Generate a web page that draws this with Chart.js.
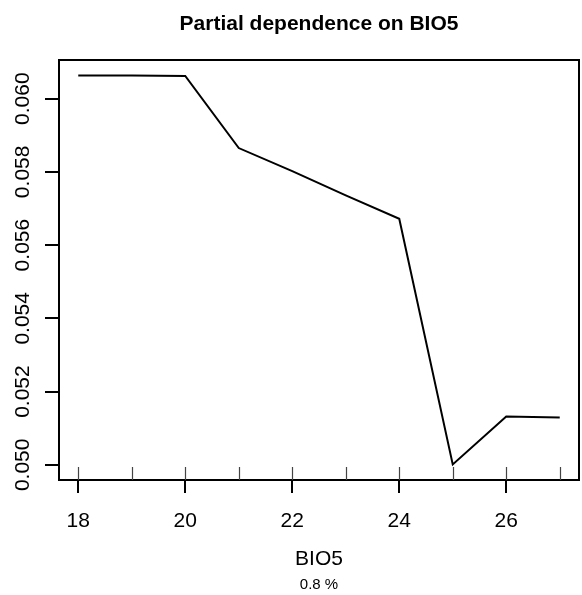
<!DOCTYPE html>
<html>
<head>
<meta charset="utf-8">
<script src="https://cdn.jsdelivr.net/npm/chart.js@4/dist/chart.umd.min.js"></script>
<style>
  html, body { margin: 0; padding: 0; background: #fff; }
  #wrap { width: 582px; height: 595px; }
</style>
</head>
<body>
<div id="wrap"><canvas id="pd"></canvas></div>
<script>
// data
const bio5 = [18, 19, 20, 21, 22, 23, 24, 25, 26, 27];
const response = [0.06063, 0.06063, 0.06062, 0.05865, 0.05802, 0.05736, 0.05672, 0.05001, 0.05132, 0.05129];
const xTicks = [18, 20, 22, 24, 26];
const yTicks = [0.050, 0.052, 0.054, 0.056, 0.058, 0.060];

const title = "Partial dependence on BIO5";
const xLabel = "BIO5";
const subLabel = "0.8 %";

// R style: 4% padding around the data range
const pad = (lo, hi) => [lo - (hi - lo) * 0.04, hi + (hi - lo) * 0.04];
const [xMin, xMax] = pad(Math.min(...bio5), Math.max(...bio5));
const [yMin, yMax] = pad(Math.min(...response), Math.max(...response));

const FONT = "'Liberation Sans', Arial, Helvetica, sans-serif";

// draws the base-graphics look: box, axes, rug, labels
const rPlot = {
  id: "rPlot",
  afterDraw(chart) {
    const { ctx, chartArea: a, scales } = chart;
    const xs = scales.x, ys = scales.y;
    ctx.save();
    ctx.strokeStyle = "#000";
    ctx.fillStyle = "#000";

    // box
    ctx.lineWidth = 2;
    ctx.strokeRect(a.left, a.top, a.right - a.left, a.bottom - a.top);

    // x axis ticks
    ctx.beginPath();
    xTicks.forEach((v) => {
      const px = Math.round(xs.getPixelForValue(v));
      ctx.moveTo(px, a.bottom);
      ctx.lineTo(px, a.bottom + 13);
    });
    // y axis ticks
    yTicks.forEach((v) => {
      const py = Math.round(ys.getPixelForValue(v));
      ctx.moveTo(a.left, py);
      ctx.lineTo(a.left - 14, py);
    });
    ctx.stroke();

    // rug
    ctx.lineWidth = 1.2;
    ctx.strokeStyle = "#444";
    ctx.beginPath();
    bio5.forEach((v) => {
      const px = Math.round(xs.getPixelForValue(v)) + 0.5;
      ctx.moveTo(px, a.bottom);
      ctx.lineTo(px, a.bottom - 13);
    });
    ctx.stroke();

    // tick labels
    ctx.font = "21px " + FONT;
    ctx.textAlign = "center";
    ctx.textBaseline = "alphabetic";
    xTicks.forEach((v) => {
      ctx.fillText(String(v), xs.getPixelForValue(v), 526.5);
    });
    yTicks.forEach((v) => {
      ctx.save();
      ctx.translate(29, ys.getPixelForValue(v));
      ctx.rotate(-Math.PI / 2);
      ctx.fillText(v.toFixed(3), 0, 0);
      ctx.restore();
    });

    const cx = (a.left + a.right) / 2;
    // title
    ctx.font = "bold 21px " + FONT;
    ctx.fillText(title, cx, 30);
    // axis label and note
    ctx.font = "21px " + FONT;
    ctx.fillText(xLabel, cx, 565);
    ctx.font = "15px " + FONT;
    ctx.fillText(subLabel, cx, 589);
    ctx.restore();
  },
};

new Chart(document.getElementById("pd"), {
  type: "line",
  data: {
    datasets: [
      {
        data: bio5.map((x, i) => ({ x: x, y: response[i] })),
        borderColor: "#000",
        borderWidth: 2,
        pointRadius: 0,
        tension: 0,
        fill: false,
      },
    ],
  },
  options: {
    responsive: true,
    maintainAspectRatio: false,
    animation: false,
    layout: { padding: { left: 59, top: 60, right: 3, bottom: 115 } },
    plugins: { legend: { display: false }, tooltip: { enabled: false } },
    scales: {
      x: { type: "linear", min: xMin, max: xMax, display: false },
      y: { type: "linear", min: yMin, max: yMax, display: false },
    },
  },
  plugins: [rPlot],
});
</script>
</body>
</html>
